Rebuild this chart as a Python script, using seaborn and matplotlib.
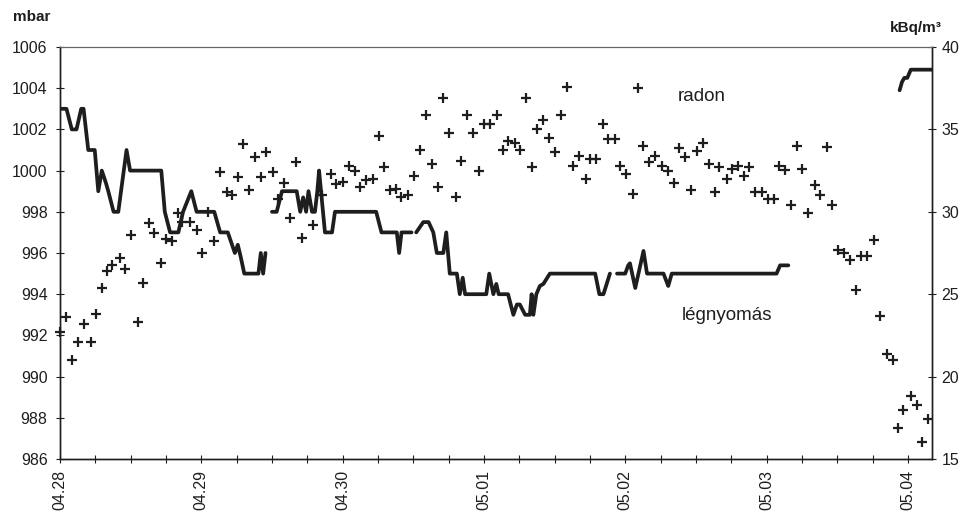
import numpy as np
import pandas as pd
import matplotlib
matplotlib.use("Agg")
import matplotlib.pyplot as plt
import seaborn as sns

# ---------------- data ----------------
# time is given in hours since 04.28 00:00
day_labels = ["04.28", "04.29", "04.30", "05.01", "05.02", "05.03", "05.04"]

radon_hours = [
    0.0, 1.1, 2.1, 3.0, 4.1, 5.3, 6.1, 7.1, 7.9, 8.9, 10.2, 11.1, 12.1, 13.2, 14.1,
    15.1, 16.0, 17.2, 18.0, 19.1, 20.0, 20.8, 22.1, 23.2, 24.1, 25.2, 26.2, 27.1,
    28.3, 29.2, 30.2, 31.1, 32.1, 33.1, 34.1, 35.0, 36.1, 37.1, 38.1, 39.1, 40.1,
    41.1, 43.0, 44.5, 46.0, 46.9, 48.0, 49.1, 50.1, 51.0, 52.0, 53.2, 54.1, 55.1,
    56.1, 57.1, 58.0, 59.1, 60.2, 61.2, 62.1, 63.1, 64.2, 65.1, 66.1, 67.2, 68.1,
    69.1, 70.1, 71.2, 72.0, 73.1, 74.2, 75.2, 76.1, 77.2, 78.1, 79.1, 80.1, 81.0,
    82.1, 83.1, 84.1, 85.1, 86.1, 87.1, 88.2, 89.3, 90.0, 91.0, 92.2, 93.0, 94.2,
    95.1, 96.1, 97.3, 98.1, 99.1, 100.1, 101.1, 102.2, 103.3, 104.2, 105.2, 106.2,
    107.2, 108.2, 109.2, 110.2, 111.3, 112.0, 113.2, 114.2, 115.2, 116.1, 117.1,
    118.1, 119.2, 120.2, 121.2, 122.1, 123.1, 124.1, 125.1, 126.1, 127.1, 128.2,
    129.1, 130.2, 131.1, 132.2, 133.1, 134.1, 135.2, 136.1, 137.1, 138.3, 139.3,
    140.4, 141.4, 142.4, 143.2, 144.5, 145.5, 146.4, 147.4,
]
radon_kbq = [
    22.7, 23.6, 21.0, 22.1, 23.2, 22.1, 23.8, 25.4, 26.4, 26.8, 27.2, 26.5, 28.6,
    23.3, 25.7, 29.3, 28.7, 26.9, 28.35, 28.2, 29.9, 29.4, 29.4, 28.9, 27.5, 30.0,
    28.25, 32.4, 31.2, 31.0, 32.1, 34.1, 31.3, 33.3, 32.1, 33.6, 32.4, 30.75, 31.75,
    29.6, 33.0, 28.4, 29.2, 31.0, 32.3, 31.7, 31.8, 32.8, 32.5, 31.5, 31.9, 32.0,
    34.6, 32.7, 31.3, 31.4, 30.9, 31.0, 32.2, 33.75, 35.9, 32.9, 31.5, 36.9, 34.8,
    30.9, 33.1, 35.9, 34.8, 32.5, 35.3, 35.3, 35.9, 33.75, 34.3, 34.2, 33.75, 36.9,
    32.7, 35.0, 35.6, 34.5, 33.6, 35.9, 37.55, 32.8, 33.4, 32.0, 33.2, 33.2, 35.3,
    34.4, 34.4, 32.75, 32.3, 31.1, 37.5, 34.0, 33.0, 33.4, 32.8, 32.45, 31.75, 33.9,
    33.3, 31.3, 33.7, 34.2, 32.9, 31.2, 32.7, 32.0, 32.6, 32.8, 32.2, 32.7, 31.2,
    31.2, 30.8, 30.8, 32.8, 32.55, 30.4, 34.0, 32.6, 29.9, 31.6, 31.0, 33.95, 30.4,
    27.7, 27.5, 27.1, 25.25, 27.3, 27.3, 28.3, 23.7, 21.4, 21.0, 16.9, 18.0, 18.8,
    18.3, 16.05, 17.4,
]

pressure_hours = [
    # run 1
    0.2, 1.1, 2.0, 2.8, 3.6, 4.0, 4.8, 5.9, 6.5, 7.1, 7.8, 8.2, 9.1, 9.9, 11.3,
    11.9, 17.2, 17.8, 18.7, 20.1, 20.9, 22.3, 23.2, 26.2, 27.2, 28.5, 29.7, 30.2,
    30.7, 31.3, 33.7, 34.1, 34.5, 34.9,
    # run 2
    36.0, 36.8, 37.7, 40.2, 40.8, 41.3, 41.8, 42.2, 42.8, 43.3, 43.7, 44.0, 44.5,
    45.0, 46.2, 46.7, 53.7, 54.6, 57.2, 57.6, 58.0, 59.7,
    # run 3
    60.5, 61.7, 62.6, 63.4, 64.0, 65.1, 65.6, 66.2, 67.4, 67.9, 68.4, 68.8, 72.4,
    72.9, 73.6, 74.1, 74.5, 76.1, 77.0, 77.6, 78.1, 79.0, 79.8, 80.1, 80.4, 80.9,
    81.5, 82.1, 83.2, 90.9, 91.6, 92.3, 93.4,
    # run 4
    94.6, 96.0, 96.5, 96.8, 97.7, 99.1, 99.7, 102.5, 103.3, 103.9, 121.7, 122.3,
    123.7,
    # run 5
    142.6, 143.0, 143.4, 143.9, 144.5, 148.1,
]
pressure_mbar = [
    1003, 1003, 1002, 1002, 1003, 1003, 1001, 1001, 999, 1000, 999.4, 999, 998, 998,
    1001, 1000, 1000, 998, 997, 997, 998, 999, 998, 998, 997, 997, 996, 996.4,
    995.8, 995, 995, 996, 995, 996,
    998, 998, 999, 999, 998, 998.7, 998, 999, 998, 998, 999, 1000, 998.5, 997, 997,
    998, 998, 997, 997, 996, 997, 997,
    997, 997.5, 997.5, 997, 996, 996, 997, 995, 995, 994, 994.8, 994, 994, 995, 994,
    994.5, 994, 994, 993, 993.5, 993.5, 993, 993, 994, 993, 994, 994.4, 994.5, 995,
    995, 994, 994, 995,
    995, 995, 995.4, 995.5, 994.3, 996.1, 995, 995, 994.4, 995, 995, 995.4, 995.4,
    1003.9, 1004.3, 1004.5, 1004.5, 1004.9, 1004.9,
]
pressure_run = [1] * 34 + [2] * 22 + [3] * 33 + [4] * 13 + [5] * 6

# ---------------- styling ----------------
sns.set_style("ticks")
plt.rcParams["font.family"] = ["Liberation Sans", "DejaVu Sans"]
ink = "#1e1e1e"

fig = plt.figure(figsize=(9.64, 5.15), dpi=100)
ax = fig.add_axes([60 / 964, 1 - 459 / 515, (932 - 60) / 964, (459 - 47) / 515])

df_p = pd.DataFrame({"h": pressure_hours, "mbar": pressure_mbar, "run": pressure_run})
sns.lineplot(data=df_p, x="h", y="mbar", units="run", estimator=None, sort=False,
             color=ink, lw=2.7, ax=ax)
ax.set_xlim(0, 148.1)
ax.set_ylim(986, 1006)

ax2 = ax.twinx()
df_r = pd.DataFrame({"h": radon_hours, "kbq": radon_kbq})
sns.scatterplot(data=df_r, x="h", y="kbq", marker="+", s=58, color=ink,
                linewidth=1.6, ax=ax2, clip_on=False)
ax2.set_ylim(15, 40)

# ticks
ax.set_yticks(np.arange(986, 1007, 2))
xt = np.arange(0, 145, 6)
ax.set_xticks(xt)
ax.set_xticklabels([day_labels[i // 4] if i % 4 == 0 else "" for i in range(len(xt))],
                   rotation=90)
ax.tick_params(axis="y", direction="inout", length=6, width=0.8, labelsize=11.5,
               colors=ink, pad=6)
ax.tick_params(axis="x", direction="inout", length=6, width=0.8, labelsize=11.5,
               colors=ink, pad=5)
ax2.set_yticks(np.arange(15, 41, 5))
ax2.tick_params(axis="y", direction="inout", length=6, width=0.8, labelsize=11.5,
                colors=ink, pad=4)
for a in (ax, ax2):
    a.set_xlabel("")
    a.set_ylabel("")
    for side, sp in a.spines.items():
        sp.set_visible(True)
        sp.set_color(ink)
        sp.set_linewidth(1.0)
ax.spines["top"].set_color("#666666")
ax.spines["top"].set_linewidth(0.8)
ax2.spines["top"].set_color("#666666")
ax2.spines["top"].set_linewidth(0.8)

# texts
fig.text(32 / 964, 1 - 17 / 515, "mbar", ha="center", va="center",
         fontsize=11, fontweight="bold", color=ink)
fig.text(916 / 964, 1 - 28 / 515, "kBq/m³", ha="center", va="center",
         fontsize=11, fontweight="bold", color=ink)
ax.text(0.736, 0.879, "radon", transform=ax.transAxes, ha="center", va="center",
        fontsize=13.5, color=ink)
ax.text(0.7646, 0.3495, "légnyomás", transform=ax.transAxes, ha="center",
        va="center", fontsize=13.5, color=ink)

fig.savefig("out.png", dpi=100)
